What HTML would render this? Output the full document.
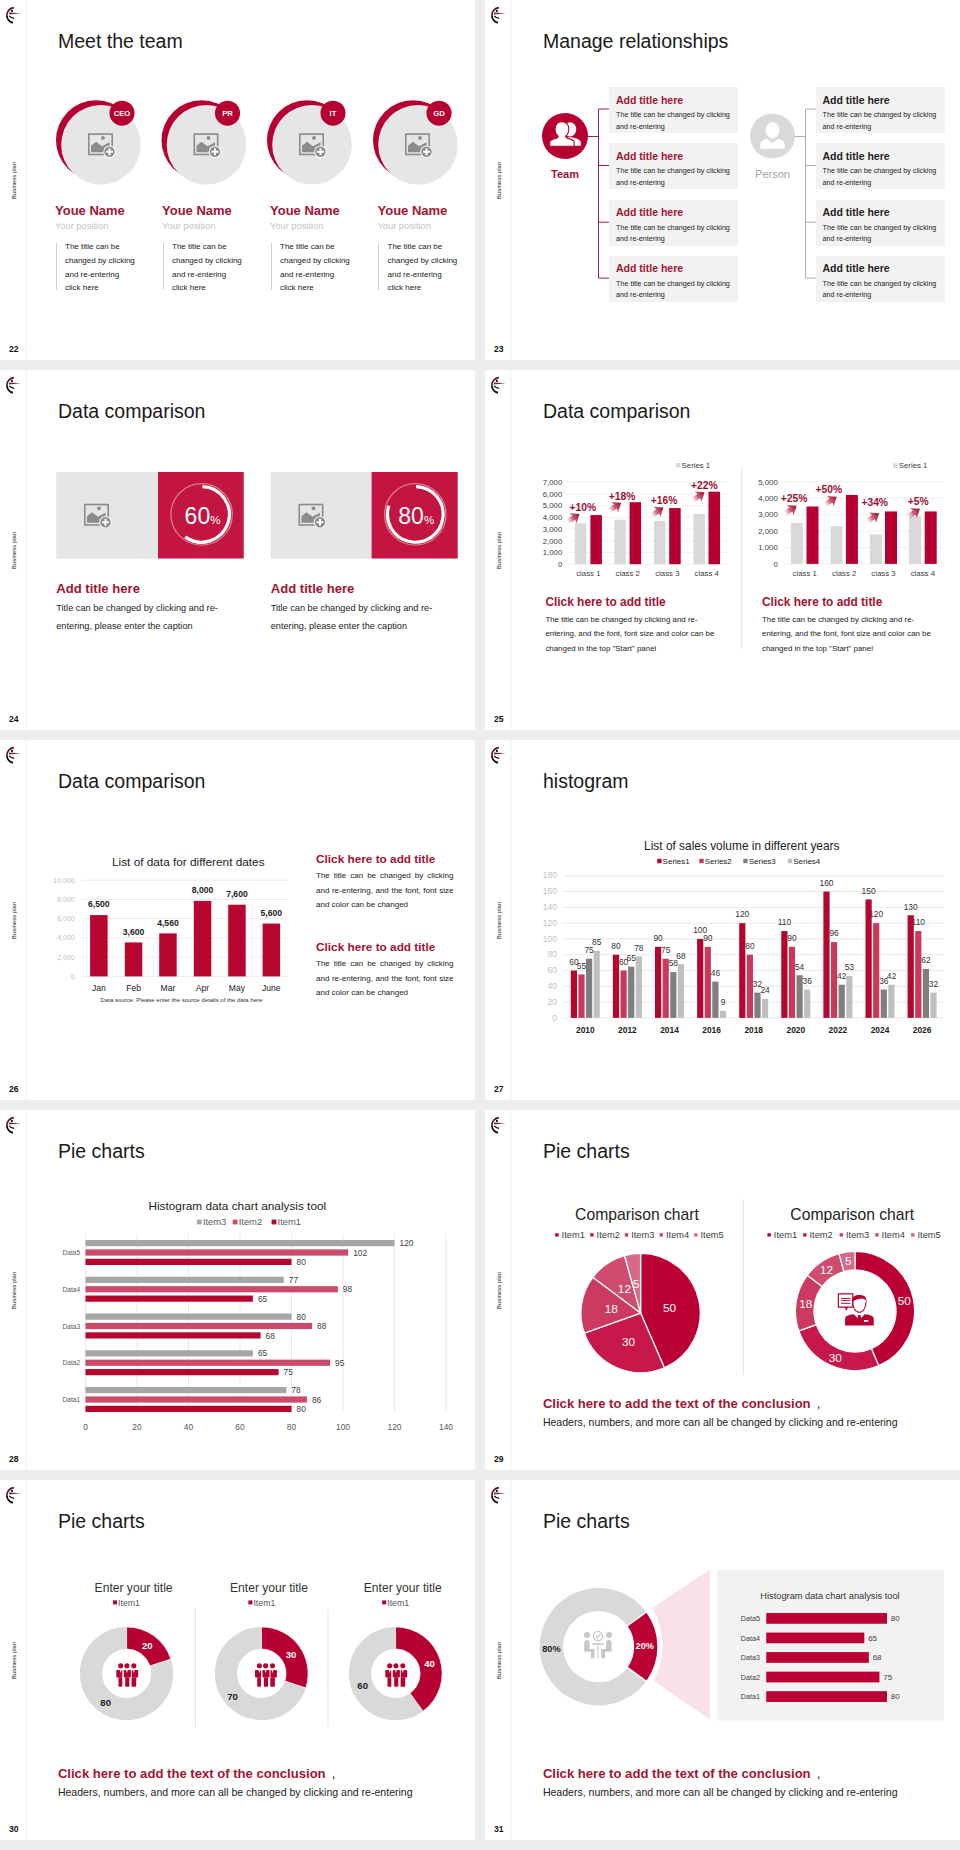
<!DOCTYPE html>
<html><head><meta charset="utf-8">
<style>
*{margin:0;padding:0;box-sizing:border-box}
html,body{width:960px;height:1850px;background:#ededed;overflow:hidden;font-family:"Liberation Sans",sans-serif;color:#222}
.s{position:absolute;width:475px;height:360px;background:#fff;overflow:hidden}
.ln{position:absolute;left:25px;top:0;width:2px;height:360px;background:#f7f7f7}
.bp{position:absolute;left:-6px;top:177px;width:40px;height:7px;font-size:6px;line-height:7px;transform:rotate(-90deg);text-align:center;color:#222;white-space:nowrap}
.pn{position:absolute;left:9px;top:343.7px;font-size:8.6px;font-weight:bold;line-height:10px;color:#111}
.tt{position:absolute;left:58px;top:28.6px;font-size:19.5px;line-height:24px;color:#1a1a1a;white-space:nowrap}
.a{position:absolute;white-space:nowrap}
svg{position:absolute;overflow:visible}
</style></head><body>
<svg width="0" height="0" style="position:absolute;left:0;top:0">
<defs>
<g id="logo">
<path d="M13.9 7.6 A7.6 7.6 0 0 0 6.9 15.1"  stroke="#561428" stroke-width="1.8" fill="none"/>
<path d="M6.9 15.3 A7.6 7.6 0 0 0 13 22.7" stroke="#111" stroke-width="1.9" fill="none"/>
<circle cx="11.9" cy="10.9" r="1.1" fill="#111"/>
<path d="M9 12.6 L20.6 13.3 L9.2 14.4 Z" fill="#7a2040"/>
<path d="M9.3 15.9 Q10.6 17.9 14.2 18.3" stroke="#111" stroke-width="1.3" fill="none"/>
</g>
<g id="imgic">
<rect x="0.8" y="0.8" width="23.4" height="20.4" fill="none" stroke="#8c8c8c" stroke-width="1.6"/>
<path d="M3 19 L3 12.5 L8 8.5 L14 13 L21.5 9 L21.5 19 Z" fill="#8c8c8c"/>
<circle cx="15" cy="4.6" r="1.9" fill="#8c8c8c"/>
<circle cx="21.5" cy="18.5" r="6.3" fill="#fff" opacity="0.9"/>
<circle cx="21.5" cy="18.5" r="5.2" fill="#8c8c8c"/>
<path d="M21.5 15 V22 M18 18.5 H25" stroke="#fff" stroke-width="2"/>
</g>
</defs></svg>

<div class="s" style="left:0px;top:0px"><div class="ln"></div><svg style="left:0;top:0" width="30" height="30"><use href="#logo"/></svg><div class="bp">Business plan</div><div class="pn">22</div><div class="tt">Meet the team</div>
<svg style="left:0;top:0" width="475" height="360"><circle cx="96" cy="140.2" r="40" fill="#b50031"/><circle cx="101" cy="144.7" r="39.8" fill="#e6e6e6"/><circle cx="122" cy="113.19999999999999" r="12.5" fill="#b50031"/><use href="#imgic" transform="translate(88,133.29999999999998)"/><text x="122" y="115.89999999999999" font-size="7.7" font-weight="bold" fill="#fff" text-anchor="middle">CEO</text><circle cx="201.5" cy="140.2" r="40" fill="#b50031"/><circle cx="206.5" cy="144.7" r="39.8" fill="#e6e6e6"/><circle cx="227.5" cy="113.19999999999999" r="12.5" fill="#b50031"/><use href="#imgic" transform="translate(193.5,133.29999999999998)"/><text x="227.5" y="115.89999999999999" font-size="7.7" font-weight="bold" fill="#fff" text-anchor="middle">PR</text><circle cx="307" cy="140.2" r="40" fill="#b50031"/><circle cx="312" cy="144.7" r="39.8" fill="#e6e6e6"/><circle cx="333" cy="113.19999999999999" r="12.5" fill="#b50031"/><use href="#imgic" transform="translate(299,133.29999999999998)"/><text x="333" y="115.89999999999999" font-size="7.7" font-weight="bold" fill="#fff" text-anchor="middle">IT</text><circle cx="413" cy="140.2" r="40" fill="#b50031"/><circle cx="418" cy="144.7" r="39.8" fill="#e6e6e6"/><circle cx="439" cy="113.19999999999999" r="12.5" fill="#b50031"/><use href="#imgic" transform="translate(405,133.29999999999998)"/><text x="439" y="115.89999999999999" font-size="7.7" font-weight="bold" fill="#fff" text-anchor="middle">GD</text></svg><div class="a" style="left:55px;top:204.1975px;font-size:13px;line-height:14.95px;color:#a01530;font-weight:bold;">Youe Name</div><div class="a" style="left:55px;top:220.8px;font-size:9.3px;line-height:10.70px;color:#c4c4c4;font-weight:normal;">Your position</div><div class="a" style="left:55.5px;top:243px;width:1px;height:47px;background:#d0d0d0"></div><div class="a" style="left:65px;top:240.3px;font-size:8px;line-height:13.7px;color:#222">The title can be<br>changed by clicking<br>and re-entering<br>click here</div><div class="a" style="left:162px;top:204.1975px;font-size:13px;line-height:14.95px;color:#a01530;font-weight:bold;">Youe Name</div><div class="a" style="left:162px;top:220.8px;font-size:9.3px;line-height:10.70px;color:#c4c4c4;font-weight:normal;">Your position</div><div class="a" style="left:162.5px;top:243px;width:1px;height:47px;background:#d0d0d0"></div><div class="a" style="left:172px;top:240.3px;font-size:8px;line-height:13.7px;color:#222">The title can be<br>changed by clicking<br>and re-entering<br>click here</div><div class="a" style="left:270px;top:204.1975px;font-size:13px;line-height:14.95px;color:#a01530;font-weight:bold;">Youe Name</div><div class="a" style="left:270px;top:220.8px;font-size:9.3px;line-height:10.70px;color:#c4c4c4;font-weight:normal;">Your position</div><div class="a" style="left:270.5px;top:243px;width:1px;height:47px;background:#d0d0d0"></div><div class="a" style="left:280px;top:240.3px;font-size:8px;line-height:13.7px;color:#222">The title can be<br>changed by clicking<br>and re-entering<br>click here</div><div class="a" style="left:377.5px;top:204.1975px;font-size:13px;line-height:14.95px;color:#a01530;font-weight:bold;">Youe Name</div><div class="a" style="left:377.5px;top:220.8px;font-size:9.3px;line-height:10.70px;color:#c4c4c4;font-weight:normal;">Your position</div><div class="a" style="left:378.0px;top:243px;width:1px;height:47px;background:#d0d0d0"></div><div class="a" style="left:387.5px;top:240.3px;font-size:8px;line-height:13.7px;color:#222">The title can be<br>changed by clicking<br>and re-entering<br>click here</div>
</div>
<div class="s" style="left:485px;top:0px"><div class="ln"></div><svg style="left:0;top:0" width="30" height="30"><use href="#logo"/></svg><div class="bp">Business plan</div><div class="pn">23</div><div class="tt">Manage relationships</div>
<svg style="left:0;top:0" width="475" height="360"><circle cx="80" cy="136" r="23" fill="#b50031"/><g fill="#fff"><ellipse cx="85" cy="129.4" rx="6.2" ry="7.2"/><path d="M78 145.8 V141 C78 138.6 81 137.8 83.5 137.2 H86.5 C90.5 138 95.8 139.2 95.8 142.6 V145.8 Z"/></g><g fill="#fff" stroke="#b50031" stroke-width="1.1"><path d="M64.6 146.3 V142.6 C64.6 139.9 67.8 138.9 71.8 138.1 C72.8 137.6 73.2 137 73.2 136.2 C71 134.6 70 132 70 129 C70 124.8 72.8 121.6 76.9 121.6 C81 121.6 83.8 124.8 83.8 129 C83.8 132 82.8 134.6 80.6 136.2 C80.6 137 81 137.6 82 138.1 C86 138.9 89.2 139.9 89.2 142.6 V146.3 Z"/></g><circle cx="287.5" cy="136" r="22.5" fill="#d9d9d9"/><g fill="#fff"><ellipse cx="287.5" cy="130.3" rx="7" ry="8.2"/><path d="M275.3 148.7 V144.5 C275.3 141.5 277.5 140 281.8 138.8 L287.5 143.5 L293.2 138.8 C297.5 140 299.7 141.5 299.7 144.5 V148.7 Z"/></g><g stroke="#a0203a" stroke-width="1" fill="none"><path d="M103 136.5 H113.5 M113.5 109 V278.1"/><path d="M113.5 109 H124"/><path d="M113.5 165.5 H124"/><path d="M113.5 222.2 H124"/><path d="M113.5 278.1 H124"/></g><g stroke="#b0b0b0" stroke-width="1" fill="none"><path d="M310 136.5 H320.5 M320.5 109 V278.1"/><path d="M320.5 109 H331"/><path d="M320.5 165.5 H331"/><path d="M320.5 222.2 H331"/><path d="M320.5 278.1 H331"/></g></svg><div class="a" style="left:124px;top:87px;width:128.5px;height:46px;background:#f2f2f2"></div><div class="a" style="left:331px;top:87px;width:129px;height:46px;background:#f2f2f2"></div><div class="a" style="left:131px;top:93.77875px;font-size:10.5px;line-height:12.07px;color:#a01530;font-weight:bold;">Add title here</div><div class="a" style="left:337.5px;top:93.77875px;font-size:10.5px;line-height:12.07px;color:#222;font-weight:bold;">Add title here</div><div class="a" style="left:131px;top:109.4px;font-size:7.2px;line-height:11.3px;color:#222">The title can be changed by clicking<br>and re-entering</div><div class="a" style="left:337.5px;top:109.4px;font-size:7.2px;line-height:11.3px;color:#222">The title can be changed by clicking<br>and re-entering</div><div class="a" style="left:124px;top:143px;width:128.5px;height:46px;background:#f2f2f2"></div><div class="a" style="left:331px;top:143px;width:129px;height:46px;background:#f2f2f2"></div><div class="a" style="left:131px;top:149.77875px;font-size:10.5px;line-height:12.07px;color:#a01530;font-weight:bold;">Add title here</div><div class="a" style="left:337.5px;top:149.77875px;font-size:10.5px;line-height:12.07px;color:#222;font-weight:bold;">Add title here</div><div class="a" style="left:131px;top:165.4px;font-size:7.2px;line-height:11.3px;color:#222">The title can be changed by clicking<br>and re-entering</div><div class="a" style="left:337.5px;top:165.4px;font-size:7.2px;line-height:11.3px;color:#222">The title can be changed by clicking<br>and re-entering</div><div class="a" style="left:124px;top:199.5px;width:128.5px;height:46px;background:#f2f2f2"></div><div class="a" style="left:331px;top:199.5px;width:129px;height:46px;background:#f2f2f2"></div><div class="a" style="left:131px;top:206.27875px;font-size:10.5px;line-height:12.07px;color:#a01530;font-weight:bold;">Add title here</div><div class="a" style="left:337.5px;top:206.27875px;font-size:10.5px;line-height:12.07px;color:#222;font-weight:bold;">Add title here</div><div class="a" style="left:131px;top:221.9px;font-size:7.2px;line-height:11.3px;color:#222">The title can be changed by clicking<br>and re-entering</div><div class="a" style="left:337.5px;top:221.9px;font-size:7.2px;line-height:11.3px;color:#222">The title can be changed by clicking<br>and re-entering</div><div class="a" style="left:124px;top:255.5px;width:128.5px;height:46px;background:#f2f2f2"></div><div class="a" style="left:331px;top:255.5px;width:129px;height:46px;background:#f2f2f2"></div><div class="a" style="left:131px;top:262.27875px;font-size:10.5px;line-height:12.07px;color:#a01530;font-weight:bold;">Add title here</div><div class="a" style="left:337.5px;top:262.27875px;font-size:10.5px;line-height:12.07px;color:#222;font-weight:bold;">Add title here</div><div class="a" style="left:131px;top:277.9px;font-size:7.2px;line-height:11.3px;color:#222">The title can be changed by clicking<br>and re-entering</div><div class="a" style="left:337.5px;top:277.9px;font-size:7.2px;line-height:11.3px;color:#222">The title can be changed by clicking<br>and re-entering</div><div class="a" style="left:-20px;top:167.68px;width:200px;text-align:center;font-size:11px;line-height:12.65px;color:#a01530;font-weight:bold;">Team</div><div class="a" style="left:187.5px;top:167.68px;width:200px;text-align:center;font-size:11px;line-height:12.65px;color:#a6a6a6;font-weight:normal;">Person</div>
</div>
<div class="s" style="left:0px;top:370px"><div class="ln"></div><svg style="left:0;top:0" width="30" height="30"><use href="#logo"/></svg><div class="bp">Business plan</div><div class="pn">24</div><div class="tt">Data comparison</div>
<svg style="left:0;top:0" width="475" height="360"><rect x="56.25" y="102" width="101.75" height="86.5" fill="#e6e4e4"/><rect x="158" y="102" width="85.75" height="86.5" fill="#c2153f"/><circle cx="201.6" cy="144.4" r="30.7" fill="none" stroke="#e07a90" stroke-width="1.3"/><path d="M202.4 116.60000000000001 A27.8 27.8 0 1 1 185.26 166.89" fill="none" stroke="#fff" stroke-width="3.2"/><use href="#imgic" transform="translate(84.0,133.75)"/><text x="184.6" y="153.8" font-size="23" fill="#fff">60<tspan font-size="11.5">%</tspan></text><rect x="270.7" y="102" width="100.90000000000003" height="86.5" fill="#e6e4e4"/><rect x="371.6" y="102" width="86.1" height="86.5" fill="#c2153f"/><circle cx="415.3" cy="144.4" r="30.7" fill="none" stroke="#e07a90" stroke-width="1.3"/><path d="M416.1 116.60000000000001 A27.8 27.8 0 1 1 388.86 135.81" fill="none" stroke="#fff" stroke-width="3.2"/><use href="#imgic" transform="translate(298.45,133.75)"/><text x="398.3" y="153.8" font-size="23" fill="#fff">80<tspan font-size="11.5">%</tspan></text></svg><div class="a" style="left:56.25px;top:211.47825px;font-size:13.1px;line-height:15.06px;color:#a01530;font-weight:bold;">Add title here</div><div class="a" style="left:56.25px;top:230.4px;font-size:9.2px;line-height:17.2px;color:#222">Title can be changed by clicking and re-<br>entering, please enter the caption</div><div class="a" style="left:270.7px;top:211.47825px;font-size:13.1px;line-height:15.06px;color:#a01530;font-weight:bold;">Add title here</div><div class="a" style="left:270.7px;top:230.4px;font-size:9.2px;line-height:17.2px;color:#222">Title can be changed by clicking and re-<br>entering, please enter the caption</div>
</div>
<div class="s" style="left:485px;top:370px"><div class="ln"></div><svg style="left:0;top:0" width="30" height="30"><use href="#logo"/></svg><div class="bp">Business plan</div><div class="pn">25</div><div class="tt">Data comparison</div>
<svg style="left:0;top:0" width="475" height="360"><defs><linearGradient id="ag" gradientUnits="objectBoundingBox" x1="0" y1="0" x2="1" y2="0"><stop offset="0" stop-color="#d0385a" stop-opacity="0"/><stop offset="0.45" stop-color="#c0284a" stop-opacity="0.75"/><stop offset="1" stop-color="#8e0c2c"/></linearGradient></defs><line x1="83.5" y1="194.20" x2="241.9" y2="194.20" stroke="#ececec" stroke-width="0.8"/><text x="77.3" y="196.90" font-size="7.8" fill="#404040" text-anchor="end">0</text><line x1="83.5" y1="182.50" x2="241.9" y2="182.50" stroke="#ececec" stroke-width="0.8"/><text x="77.3" y="185.20" font-size="7.8" fill="#404040" text-anchor="end">1,000</text><line x1="83.5" y1="170.80" x2="241.9" y2="170.80" stroke="#ececec" stroke-width="0.8"/><text x="77.3" y="173.50" font-size="7.8" fill="#404040" text-anchor="end">2,000</text><line x1="83.5" y1="159.10" x2="241.9" y2="159.10" stroke="#ececec" stroke-width="0.8"/><text x="77.3" y="161.80" font-size="7.8" fill="#404040" text-anchor="end">3,000</text><line x1="83.5" y1="147.40" x2="241.9" y2="147.40" stroke="#ececec" stroke-width="0.8"/><text x="77.3" y="150.10" font-size="7.8" fill="#404040" text-anchor="end">4,000</text><line x1="83.5" y1="135.70" x2="241.9" y2="135.70" stroke="#ececec" stroke-width="0.8"/><text x="77.3" y="138.40" font-size="7.8" fill="#404040" text-anchor="end">5,000</text><line x1="83.5" y1="124.00" x2="241.9" y2="124.00" stroke="#ececec" stroke-width="0.8"/><text x="77.3" y="126.70" font-size="7.8" fill="#404040" text-anchor="end">6,000</text><line x1="83.5" y1="112.30" x2="241.9" y2="112.30" stroke="#ececec" stroke-width="0.8"/><text x="77.3" y="115.00" font-size="7.8" fill="#404040" text-anchor="end">7,000</text><rect x="89.8" y="153.25" width="11.5" height="40.95" fill="#d9d9d9"/><rect x="105.4" y="145.06" width="11.5" height="49.14" fill="#b50031"/><text x="103.35" y="206.2" font-size="7.8" fill="#404040" text-anchor="middle">class 1</text><rect x="129.4" y="149.74" width="11.5" height="44.46" fill="#d9d9d9"/><rect x="144.6" y="132.19" width="11.5" height="62.01" fill="#b50031"/><text x="142.75" y="206.2" font-size="7.8" fill="#404040" text-anchor="middle">class 2</text><rect x="169" y="150.91" width="11.5" height="43.29" fill="#d9d9d9"/><rect x="184.2" y="138.04" width="11.5" height="56.16" fill="#b50031"/><text x="182.35" y="206.2" font-size="7.8" fill="#404040" text-anchor="middle">class 3</text><rect x="208.5" y="143.89" width="11.5" height="50.31" fill="#d9d9d9"/><rect x="223.5" y="121.66" width="11.5" height="72.54" fill="#b50031"/><text x="221.75" y="206.2" font-size="7.8" fill="#404040" text-anchor="middle">class 4</text><line x1="299.7" y1="193.90" x2="457.8" y2="193.90" stroke="#ececec" stroke-width="0.8"/><text x="292.8" y="196.60" font-size="7.8" fill="#404040" text-anchor="end">0</text><line x1="299.7" y1="177.50" x2="457.8" y2="177.50" stroke="#ececec" stroke-width="0.8"/><text x="292.8" y="180.20" font-size="7.8" fill="#404040" text-anchor="end">1,000</text><line x1="299.7" y1="161.10" x2="457.8" y2="161.10" stroke="#ececec" stroke-width="0.8"/><text x="292.8" y="163.80" font-size="7.8" fill="#404040" text-anchor="end">2,000</text><line x1="299.7" y1="144.70" x2="457.8" y2="144.70" stroke="#ececec" stroke-width="0.8"/><text x="292.8" y="147.40" font-size="7.8" fill="#404040" text-anchor="end">3,000</text><line x1="299.7" y1="128.30" x2="457.8" y2="128.30" stroke="#ececec" stroke-width="0.8"/><text x="292.8" y="131.00" font-size="7.8" fill="#404040" text-anchor="end">4,000</text><line x1="299.7" y1="111.90" x2="457.8" y2="111.90" stroke="#ececec" stroke-width="0.8"/><text x="292.8" y="114.60" font-size="7.8" fill="#404040" text-anchor="end">5,000</text><rect x="305.9" y="152.90" width="12" height="41.00" fill="#d9d9d9"/><rect x="321.5" y="136.50" width="12" height="57.40" fill="#b50031"/><text x="319.70" y="205.9" font-size="7.8" fill="#404040" text-anchor="middle">class 1</text><rect x="345.5" y="156.18" width="12" height="37.72" fill="#d9d9d9"/><rect x="360.9" y="125.02" width="12" height="68.88" fill="#b50031"/><text x="359.20" y="205.9" font-size="7.8" fill="#404040" text-anchor="middle">class 2</text><rect x="384.9" y="164.38" width="12" height="29.52" fill="#d9d9d9"/><rect x="400" y="141.42" width="12" height="52.48" fill="#b50031"/><text x="398.45" y="205.9" font-size="7.8" fill="#404040" text-anchor="middle">class 3</text><rect x="424" y="146.34" width="12" height="47.56" fill="#d9d9d9"/><rect x="439.7" y="141.42" width="12" height="52.48" fill="#b50031"/><text x="437.85" y="205.9" font-size="7.8" fill="#404040" text-anchor="middle">class 4</text><g transform="translate(94,144.3) rotate(-34)"><path d="M-13.5 -2.5 L-6.2 -2.5 L-7.2 -6.2 L0.6 0 L-7.2 6.2 L-6.2 2.5 L-13.5 2.5 Z" fill="url(#ag)"/></g><g transform="translate(135.6,133.1) rotate(-34)"><path d="M-13.5 -2.5 L-6.2 -2.5 L-7.2 -6.2 L0.6 0 L-7.2 6.2 L-6.2 2.5 L-13.5 2.5 Z" fill="url(#ag)"/></g><g transform="translate(177.9,137.9) rotate(-34)"><path d="M-13.5 -2.5 L-6.2 -2.5 L-7.2 -6.2 L0.6 0 L-7.2 6.2 L-6.2 2.5 L-13.5 2.5 Z" fill="url(#ag)"/></g><g transform="translate(219,122.7) rotate(-34)"><path d="M-13.5 -2.5 L-6.2 -2.5 L-7.2 -6.2 L0.6 0 L-7.2 6.2 L-6.2 2.5 L-13.5 2.5 Z" fill="url(#ag)"/></g><g transform="translate(311.1,136.1) rotate(-34)"><path d="M-13.5 -2.5 L-6.2 -2.5 L-7.2 -6.2 L0.6 0 L-7.2 6.2 L-6.2 2.5 L-13.5 2.5 Z" fill="url(#ag)"/></g><g transform="translate(351.2,127) rotate(-34)"><path d="M-13.5 -2.5 L-6.2 -2.5 L-7.2 -6.2 L0.6 0 L-7.2 6.2 L-6.2 2.5 L-13.5 2.5 Z" fill="url(#ag)"/></g><g transform="translate(393.6,143.7) rotate(-34)"><path d="M-13.5 -2.5 L-6.2 -2.5 L-7.2 -6.2 L0.6 0 L-7.2 6.2 L-6.2 2.5 L-13.5 2.5 Z" fill="url(#ag)"/></g><g transform="translate(434.4,139.1) rotate(-34)"><path d="M-13.5 -2.5 L-6.2 -2.5 L-7.2 -6.2 L0.6 0 L-7.2 6.2 L-6.2 2.5 L-13.5 2.5 Z" fill="url(#ag)"/></g><text x="84.6" y="140.9" font-size="10.3" font-weight="bold" fill="#9a1030">+10%</text><text x="123.75" y="129.85" font-size="10.3" font-weight="bold" fill="#9a1030">+18%</text><text x="165.8" y="133.6" font-size="10.3" font-weight="bold" fill="#9a1030">+16%</text><text x="206" y="119.0" font-size="10.3" font-weight="bold" fill="#9a1030">+22%</text><text x="295.8" y="131.6" font-size="10.3" font-weight="bold" fill="#9a1030">+25%</text><text x="330.6" y="123.0" font-size="10.3" font-weight="bold" fill="#9a1030">+50%</text><text x="376.4" y="136.29999999999998" font-size="10.3" font-weight="bold" fill="#9a1030">+34%</text><text x="422.7" y="134.5" font-size="10.3" font-weight="bold" fill="#9a1030">+5%</text><rect x="190.8" y="93.0" width="4.4" height="4.4" fill="#d9d9d9"/><text x="196.60000000000002" y="98.0" font-size="7.8" fill="#404040">Series 1</text><rect x="408" y="93.39999999999999" width="4.4" height="4.4" fill="#d9d9d9"/><text x="413.8" y="98.39999999999999" font-size="7.8" fill="#404040">Series 1</text><line x1="256.8" y1="96.5" x2="256.8" y2="279.6" stroke="#e3e3e3" stroke-width="1"/></svg><div class="a" style="left:60.4px;top:225.9575px;font-size:11.9px;line-height:13.68px;color:#a01530;font-weight:bold;">Click here to add title</div><div class="a" style="left:60.4px;top:242.65px;font-size:7.9px;line-height:14.5px;color:#222">The title can be changed by clicking and re-<br>entering, and the font, font size and color can be<br>changed in the top "Start" panel</div><div class="a" style="left:277px;top:225.9575px;font-size:11.9px;line-height:13.68px;color:#a01530;font-weight:bold;">Click here to add title</div><div class="a" style="left:277px;top:242.65px;font-size:7.9px;line-height:14.5px;color:#222">The title can be changed by clicking and re-<br>entering, and the font, font size and color can be<br>changed in the top "Start" panel</div>
</div>
<div class="s" style="left:0px;top:740px"><div class="ln"></div><svg style="left:0;top:0" width="30" height="30"><use href="#logo"/></svg><div class="bp">Business plan</div><div class="pn">26</div><div class="tt">Data comparison</div>
<svg style="left:0;top:0" width="475" height="360"><line x1="82" y1="236.40" x2="287.8" y2="236.40" stroke="#e6e6e6" stroke-width="0.8"/><text x="74.7" y="238.90" font-size="7" fill="#bfbfbf" text-anchor="end">0</text><line x1="82" y1="217.15" x2="287.8" y2="217.15" stroke="#e6e6e6" stroke-width="0.8"/><text x="74.7" y="219.65" font-size="7" fill="#bfbfbf" text-anchor="end">2,000</text><line x1="82" y1="197.90" x2="287.8" y2="197.90" stroke="#e6e6e6" stroke-width="0.8"/><text x="74.7" y="200.40" font-size="7" fill="#bfbfbf" text-anchor="end">4,000</text><line x1="82" y1="178.65" x2="287.8" y2="178.65" stroke="#e6e6e6" stroke-width="0.8"/><text x="74.7" y="181.15" font-size="7" fill="#bfbfbf" text-anchor="end">6,000</text><line x1="82" y1="159.40" x2="287.8" y2="159.40" stroke="#e6e6e6" stroke-width="0.8"/><text x="74.7" y="161.90" font-size="7" fill="#bfbfbf" text-anchor="end">8,000</text><line x1="82" y1="140.15" x2="287.8" y2="140.15" stroke="#e6e6e6" stroke-width="0.8"/><text x="74.7" y="142.65" font-size="7" fill="#bfbfbf" text-anchor="end">10,000</text><rect x="90.1" y="175.09" width="17.5" height="61.31" fill="#b8072f"/><text x="98.85" y="167.49" font-size="8.6" font-weight="bold" fill="#222" text-anchor="middle">6,500</text><text x="98.85" y="250.70" font-size="8.6" fill="#222" text-anchor="middle">Jan</text><rect x="124.8" y="202.44" width="17.5" height="33.96" fill="#b8072f"/><text x="133.55" y="194.84" font-size="8.6" font-weight="bold" fill="#222" text-anchor="middle">3,600</text><text x="133.55" y="250.70" font-size="8.6" fill="#222" text-anchor="middle">Feb</text><rect x="159.2" y="193.39" width="17.5" height="43.01" fill="#b8072f"/><text x="167.95" y="185.79" font-size="8.6" font-weight="bold" fill="#222" text-anchor="middle">4,560</text><text x="167.95" y="250.70" font-size="8.6" fill="#222" text-anchor="middle">Mar</text><rect x="193.8" y="160.94" width="17.5" height="75.46" fill="#b8072f"/><text x="202.55" y="153.34" font-size="8.6" font-weight="bold" fill="#222" text-anchor="middle">8,000</text><text x="202.55" y="250.70" font-size="8.6" fill="#222" text-anchor="middle">Apr</text><rect x="228.2" y="164.71" width="17.5" height="71.69" fill="#b8072f"/><text x="236.95" y="157.11" font-size="8.6" font-weight="bold" fill="#222" text-anchor="middle">7,600</text><text x="236.95" y="250.70" font-size="8.6" fill="#222" text-anchor="middle">May</text><rect x="262.6" y="183.58" width="17.5" height="52.82" fill="#b8072f"/><text x="271.35" y="175.98" font-size="8.6" font-weight="bold" fill="#222" text-anchor="middle">5,600</text><text x="271.35" y="250.70" font-size="8.6" fill="#222" text-anchor="middle">June</text><text x="181.5" y="261.8" font-size="6" fill="#333" text-anchor="middle">Data source: Please enter the source details of the data here</text><text x="188.3" y="125.9" font-size="11.8" fill="#222" text-anchor="middle">List of data for different dates</text></svg><div class="a" style="left:316px;top:112.565px;font-size:11.8px;line-height:13.57px;color:#a01530;font-weight:bold;">Click here to add title</div><div class="a" style="left:316px;top:129.30px;width:137.5px;white-space:normal;text-align:justify;text-align-last:left;font-size:8px;line-height:14.4px;color:#222">The title can be changed by clicking and re-entering, and the font, font size and color can be changed</div><div class="a" style="left:316px;top:200.615px;font-size:11.8px;line-height:13.57px;color:#a01530;font-weight:bold;">Click here to add title</div><div class="a" style="left:316px;top:217.35px;width:137.5px;white-space:normal;text-align:justify;text-align-last:left;font-size:8px;line-height:14.4px;color:#222">The title can be changed by clicking and re-entering, and the font, font size and color can be changed</div>
</div>
<div class="s" style="left:485px;top:740px"><div class="ln"></div><svg style="left:0;top:0" width="30" height="30"><use href="#logo"/></svg><div class="bp">Business plan</div><div class="pn">27</div><div class="tt">histogram</div>
<svg style="left:0;top:0" width="475" height="360"><line x1="77" y1="277.90" x2="459" y2="277.90" stroke="#e3e3e3" stroke-width="0.8"/><text x="72" y="280.60" font-size="8.5" fill="#bfbfbf" text-anchor="end">0</text><line x1="77" y1="262.11" x2="459" y2="262.11" stroke="#e3e3e3" stroke-width="0.8"/><text x="72" y="264.81" font-size="8.5" fill="#bfbfbf" text-anchor="end">20</text><line x1="77" y1="246.32" x2="459" y2="246.32" stroke="#e3e3e3" stroke-width="0.8"/><text x="72" y="249.02" font-size="8.5" fill="#bfbfbf" text-anchor="end">40</text><line x1="77" y1="230.53" x2="459" y2="230.53" stroke="#e3e3e3" stroke-width="0.8"/><text x="72" y="233.23" font-size="8.5" fill="#bfbfbf" text-anchor="end">60</text><line x1="77" y1="214.74" x2="459" y2="214.74" stroke="#e3e3e3" stroke-width="0.8"/><text x="72" y="217.44" font-size="8.5" fill="#bfbfbf" text-anchor="end">80</text><line x1="77" y1="198.95" x2="459" y2="198.95" stroke="#e3e3e3" stroke-width="0.8"/><text x="72" y="201.65" font-size="8.5" fill="#bfbfbf" text-anchor="end">100</text><line x1="77" y1="183.16" x2="459" y2="183.16" stroke="#e3e3e3" stroke-width="0.8"/><text x="72" y="185.86" font-size="8.5" fill="#bfbfbf" text-anchor="end">120</text><line x1="77" y1="167.37" x2="459" y2="167.37" stroke="#e3e3e3" stroke-width="0.8"/><text x="72" y="170.07" font-size="8.5" fill="#bfbfbf" text-anchor="end">140</text><line x1="77" y1="151.58" x2="459" y2="151.58" stroke="#e3e3e3" stroke-width="0.8"/><text x="72" y="154.28" font-size="8.5" fill="#bfbfbf" text-anchor="end">160</text><line x1="77" y1="135.79" x2="459" y2="135.79" stroke="#e3e3e3" stroke-width="0.8"/><text x="72" y="138.49" font-size="8.5" fill="#bfbfbf" text-anchor="end">180</text><rect x="85.80" y="230.53" width="6.2" height="47.37" fill="#b5072e"/><rect x="93.40" y="234.48" width="6.2" height="43.42" fill="#c83a5a"/><rect x="101.00" y="218.69" width="6.2" height="59.21" fill="#7f7f7f"/><rect x="108.60" y="210.79" width="6.2" height="67.11" fill="#bfbfbf"/><text x="88.90" y="224.83" font-size="8.4" fill="#333" text-anchor="middle">60</text><text x="96.50" y="228.78" font-size="8.4" fill="#333" text-anchor="middle">55</text><text x="104.10" y="212.99" font-size="8.4" fill="#333" text-anchor="middle">75</text><text x="111.70" y="205.09" font-size="8.4" fill="#333" text-anchor="middle">85</text><text x="100.30" y="292.80" font-size="8.4" font-weight="bold" fill="#222" text-anchor="middle">2010</text><rect x="127.90" y="214.74" width="6.2" height="63.16" fill="#b5072e"/><rect x="135.50" y="230.53" width="6.2" height="47.37" fill="#c83a5a"/><rect x="143.10" y="226.58" width="6.2" height="51.32" fill="#7f7f7f"/><rect x="150.70" y="216.32" width="6.2" height="61.58" fill="#bfbfbf"/><text x="131.00" y="209.04" font-size="8.4" fill="#333" text-anchor="middle">80</text><text x="138.60" y="224.83" font-size="8.4" fill="#333" text-anchor="middle">60</text><text x="146.20" y="220.88" font-size="8.4" fill="#333" text-anchor="middle">65</text><text x="153.80" y="210.62" font-size="8.4" fill="#333" text-anchor="middle">78</text><text x="142.40" y="292.80" font-size="8.4" font-weight="bold" fill="#222" text-anchor="middle">2012</text><rect x="170.00" y="206.84" width="6.2" height="71.05" fill="#b5072e"/><rect x="177.60" y="218.69" width="6.2" height="59.21" fill="#c83a5a"/><rect x="185.20" y="232.11" width="6.2" height="45.79" fill="#7f7f7f"/><rect x="192.80" y="224.21" width="6.2" height="53.69" fill="#bfbfbf"/><text x="173.10" y="201.14" font-size="8.4" fill="#333" text-anchor="middle">90</text><text x="180.70" y="212.99" font-size="8.4" fill="#333" text-anchor="middle">75</text><text x="188.30" y="226.41" font-size="8.4" fill="#333" text-anchor="middle">58</text><text x="195.90" y="218.51" font-size="8.4" fill="#333" text-anchor="middle">68</text><text x="184.50" y="292.80" font-size="8.4" font-weight="bold" fill="#222" text-anchor="middle">2014</text><rect x="212.10" y="198.95" width="6.2" height="78.95" fill="#b5072e"/><rect x="219.70" y="206.84" width="6.2" height="71.05" fill="#c83a5a"/><rect x="227.30" y="241.58" width="6.2" height="36.32" fill="#7f7f7f"/><rect x="234.90" y="270.79" width="6.2" height="7.11" fill="#bfbfbf"/><text x="215.20" y="193.25" font-size="8.4" fill="#333" text-anchor="middle">100</text><text x="222.80" y="201.14" font-size="8.4" fill="#333" text-anchor="middle">90</text><text x="230.40" y="235.88" font-size="8.4" fill="#333" text-anchor="middle">46</text><text x="238.00" y="265.09" font-size="8.4" fill="#333" text-anchor="middle">9</text><text x="226.60" y="292.80" font-size="8.4" font-weight="bold" fill="#222" text-anchor="middle">2016</text><rect x="254.20" y="183.16" width="6.2" height="94.74" fill="#b5072e"/><rect x="261.80" y="214.74" width="6.2" height="63.16" fill="#c83a5a"/><rect x="269.40" y="252.64" width="6.2" height="25.26" fill="#7f7f7f"/><rect x="277.00" y="258.95" width="6.2" height="18.95" fill="#bfbfbf"/><text x="257.30" y="177.46" font-size="8.4" fill="#333" text-anchor="middle">120</text><text x="264.90" y="209.04" font-size="8.4" fill="#333" text-anchor="middle">80</text><text x="272.50" y="246.94" font-size="8.4" fill="#333" text-anchor="middle">32</text><text x="280.10" y="253.25" font-size="8.4" fill="#333" text-anchor="middle">24</text><text x="268.70" y="292.80" font-size="8.4" font-weight="bold" fill="#222" text-anchor="middle">2018</text><rect x="296.30" y="191.05" width="6.2" height="86.84" fill="#b5072e"/><rect x="303.90" y="206.84" width="6.2" height="71.05" fill="#c83a5a"/><rect x="311.50" y="235.27" width="6.2" height="42.63" fill="#7f7f7f"/><rect x="319.10" y="249.48" width="6.2" height="28.42" fill="#bfbfbf"/><text x="299.40" y="185.35" font-size="8.4" fill="#333" text-anchor="middle">110</text><text x="307.00" y="201.14" font-size="8.4" fill="#333" text-anchor="middle">90</text><text x="314.60" y="229.57" font-size="8.4" fill="#333" text-anchor="middle">54</text><text x="322.20" y="243.78" font-size="8.4" fill="#333" text-anchor="middle">36</text><text x="310.80" y="292.80" font-size="8.4" font-weight="bold" fill="#222" text-anchor="middle">2020</text><rect x="338.40" y="151.58" width="6.2" height="126.32" fill="#b5072e"/><rect x="346.00" y="202.11" width="6.2" height="75.79" fill="#c83a5a"/><rect x="353.60" y="244.74" width="6.2" height="33.16" fill="#7f7f7f"/><rect x="361.20" y="236.06" width="6.2" height="41.84" fill="#bfbfbf"/><text x="341.50" y="145.88" font-size="8.4" fill="#333" text-anchor="middle">160</text><text x="349.10" y="196.41" font-size="8.4" fill="#333" text-anchor="middle">96</text><text x="356.70" y="239.04" font-size="8.4" fill="#333" text-anchor="middle">42</text><text x="364.30" y="230.36" font-size="8.4" fill="#333" text-anchor="middle">53</text><text x="352.90" y="292.80" font-size="8.4" font-weight="bold" fill="#222" text-anchor="middle">2022</text><rect x="380.50" y="159.47" width="6.2" height="118.42" fill="#b5072e"/><rect x="388.10" y="183.16" width="6.2" height="94.74" fill="#c83a5a"/><rect x="395.70" y="249.48" width="6.2" height="28.42" fill="#7f7f7f"/><rect x="403.30" y="244.74" width="6.2" height="33.16" fill="#bfbfbf"/><text x="383.60" y="153.77" font-size="8.4" fill="#333" text-anchor="middle">150</text><text x="391.20" y="177.46" font-size="8.4" fill="#333" text-anchor="middle">120</text><text x="398.80" y="243.78" font-size="8.4" fill="#333" text-anchor="middle">36</text><text x="406.40" y="239.04" font-size="8.4" fill="#333" text-anchor="middle">42</text><text x="395.00" y="292.80" font-size="8.4" font-weight="bold" fill="#222" text-anchor="middle">2024</text><rect x="422.60" y="175.26" width="6.2" height="102.63" fill="#b5072e"/><rect x="430.20" y="191.05" width="6.2" height="86.84" fill="#c83a5a"/><rect x="437.80" y="228.95" width="6.2" height="48.95" fill="#7f7f7f"/><rect x="445.40" y="252.64" width="6.2" height="25.26" fill="#bfbfbf"/><text x="425.70" y="169.56" font-size="8.4" fill="#333" text-anchor="middle">130</text><text x="433.30" y="185.35" font-size="8.4" fill="#333" text-anchor="middle">110</text><text x="440.90" y="223.25" font-size="8.4" fill="#333" text-anchor="middle">62</text><text x="448.50" y="246.94" font-size="8.4" fill="#333" text-anchor="middle">32</text><text x="437.10" y="292.80" font-size="8.4" font-weight="bold" fill="#222" text-anchor="middle">2026</text><text x="256.8" y="109.8" font-size="11.9" fill="#222" text-anchor="middle">List of sales volume in different years</text><rect x="172.2" y="118.8" width="4.4" height="4.4" fill="#b5072e"/><text x="177.6" y="123.8" font-size="8" fill="#222">Series1</text><rect x="214.3" y="118.8" width="4.4" height="4.4" fill="#c83a5a"/><text x="219.70000000000002" y="123.8" font-size="8" fill="#222">Series2</text><rect x="258.3" y="118.8" width="4.4" height="4.4" fill="#7f7f7f"/><text x="263.7" y="123.8" font-size="8" fill="#222">Series3</text><rect x="302.8" y="118.8" width="4.4" height="4.4" fill="#bfbfbf"/><text x="308.2" y="123.8" font-size="8" fill="#222">Series4</text></svg>
</div>
<div class="s" style="left:0px;top:1110px"><div class="ln"></div><svg style="left:0;top:0" width="30" height="30"><use href="#logo"/></svg><div class="bp">Business plan</div><div class="pn">28</div><div class="tt">Pie charts</div>
<svg style="left:0;top:0" width="475" height="360"><line x1="85.50" y1="123.75" x2="85.50" y2="303" stroke="#e3e3e3" stroke-width="0.8"/><text x="85.50" y="319.8" font-size="8.4" fill="#595959" text-anchor="middle">0</text><line x1="137.00" y1="123.75" x2="137.00" y2="303" stroke="#e3e3e3" stroke-width="0.8"/><text x="137.00" y="319.8" font-size="8.4" fill="#595959" text-anchor="middle">20</text><line x1="188.50" y1="123.75" x2="188.50" y2="303" stroke="#e3e3e3" stroke-width="0.8"/><text x="188.50" y="319.8" font-size="8.4" fill="#595959" text-anchor="middle">40</text><line x1="240.00" y1="123.75" x2="240.00" y2="303" stroke="#e3e3e3" stroke-width="0.8"/><text x="240.00" y="319.8" font-size="8.4" fill="#595959" text-anchor="middle">60</text><line x1="291.50" y1="123.75" x2="291.50" y2="303" stroke="#e3e3e3" stroke-width="0.8"/><text x="291.50" y="319.8" font-size="8.4" fill="#595959" text-anchor="middle">80</text><line x1="343.00" y1="123.75" x2="343.00" y2="303" stroke="#e3e3e3" stroke-width="0.8"/><text x="343.00" y="319.8" font-size="8.4" fill="#595959" text-anchor="middle">100</text><line x1="394.50" y1="123.75" x2="394.50" y2="303" stroke="#e3e3e3" stroke-width="0.8"/><text x="394.50" y="319.8" font-size="8.4" fill="#595959" text-anchor="middle">120</text><line x1="446.00" y1="123.75" x2="446.00" y2="303" stroke="#e3e3e3" stroke-width="0.8"/><text x="446.00" y="319.8" font-size="8.4" fill="#595959" text-anchor="middle">140</text><rect x="85.5" y="130.00" width="309.00" height="6.2" fill="#a6a6a6"/><text x="399.50" y="136.20" font-size="8.4" fill="#404040">120</text><rect x="85.5" y="139.40" width="262.65" height="6.2" fill="#cc4a6a"/><text x="353.15" y="145.60" font-size="8.4" fill="#404040">102</text><rect x="85.5" y="148.80" width="206.00" height="6.2" fill="#b5072e"/><text x="296.50" y="155.00" font-size="8.4" fill="#404040">80</text><text x="80.2" y="145.00" font-size="6.6" fill="#595959" text-anchor="end">Data5</text><rect x="85.5" y="166.75" width="198.28" height="6.2" fill="#a6a6a6"/><text x="288.77" y="172.95" font-size="8.4" fill="#404040">77</text><rect x="85.5" y="176.15" width="252.35" height="6.2" fill="#cc4a6a"/><text x="342.85" y="182.35" font-size="8.4" fill="#404040">98</text><rect x="85.5" y="185.55" width="167.38" height="6.2" fill="#b5072e"/><text x="257.88" y="191.75" font-size="8.4" fill="#404040">65</text><text x="80.2" y="181.75" font-size="6.6" fill="#595959" text-anchor="end">Data4</text><rect x="85.5" y="203.50" width="206.00" height="6.2" fill="#a6a6a6"/><text x="296.50" y="209.70" font-size="8.4" fill="#404040">80</text><rect x="85.5" y="212.90" width="226.60" height="6.2" fill="#cc4a6a"/><text x="317.10" y="219.10" font-size="8.4" fill="#404040">88</text><rect x="85.5" y="222.30" width="175.10" height="6.2" fill="#b5072e"/><text x="265.60" y="228.50" font-size="8.4" fill="#404040">68</text><text x="80.2" y="218.50" font-size="6.6" fill="#595959" text-anchor="end">Data3</text><rect x="85.5" y="240.25" width="167.38" height="6.2" fill="#a6a6a6"/><text x="257.88" y="246.45" font-size="8.4" fill="#404040">65</text><rect x="85.5" y="249.65" width="244.63" height="6.2" fill="#cc4a6a"/><text x="335.12" y="255.85" font-size="8.4" fill="#404040">95</text><rect x="85.5" y="259.05" width="193.12" height="6.2" fill="#b5072e"/><text x="283.62" y="265.25" font-size="8.4" fill="#404040">75</text><text x="80.2" y="255.25" font-size="6.6" fill="#595959" text-anchor="end">Data2</text><rect x="85.5" y="277.00" width="200.85" height="6.2" fill="#a6a6a6"/><text x="291.35" y="283.20" font-size="8.4" fill="#404040">78</text><rect x="85.5" y="286.40" width="221.45" height="6.2" fill="#cc4a6a"/><text x="311.95" y="292.60" font-size="8.4" fill="#404040">86</text><rect x="85.5" y="295.80" width="206.00" height="6.2" fill="#b5072e"/><text x="296.50" y="302.00" font-size="8.4" fill="#404040">80</text><text x="80.2" y="292.00" font-size="6.6" fill="#595959" text-anchor="end">Data1</text><text x="237.3" y="100.2" font-size="11.8" fill="#222" text-anchor="middle">Histogram data chart analysis tool</text><rect x="196.9" y="109.6" width="4.8" height="4.8" fill="#a6a6a6"/><text x="202.9" y="115.4" font-size="9.4" fill="#595959">Item3</text><rect x="232.7" y="109.6" width="4.8" height="4.8" fill="#cc4a6a"/><text x="238.7" y="115.4" font-size="9.4" fill="#595959">Item2</text><rect x="271.6" y="109.6" width="4.8" height="4.8" fill="#b5072e"/><text x="277.6" y="115.4" font-size="9.4" fill="#595959">Item1</text></svg>
</div>
<div class="s" style="left:485px;top:1110px"><div class="ln"></div><svg style="left:0;top:0" width="30" height="30"><use href="#logo"/></svg><div class="bp">Business plan</div><div class="pn">29</div><div class="tt">Pie charts</div>
<svg style="left:0;top:0" width="475" height="360"><path d="M155.60 203.10 L155.60 143.40 A59.7 59.7 0 0 1 179.38 257.86 Z" fill="#bb0033" stroke="#fff" stroke-width="1.3" stroke-linejoin="round"/><path d="M155.60 203.10 L179.38 257.86 A59.7 59.7 0 0 1 99.35 223.09 Z" fill="#c8174a" stroke="#fff" stroke-width="1.3" stroke-linejoin="round"/><path d="M155.60 203.10 L99.35 223.09 A59.7 59.7 0 0 1 107.79 167.35 Z" fill="#cc3a60" stroke="#fff" stroke-width="1.3" stroke-linejoin="round"/><path d="M155.60 203.10 L107.79 167.35 A59.7 59.7 0 0 1 139.49 145.61 Z" fill="#cf4c6e" stroke="#fff" stroke-width="1.3" stroke-linejoin="round"/><path d="M155.60 203.10 L139.49 145.61 A59.7 59.7 0 0 1 155.60 143.40 Z" fill="#d76a88" stroke="#fff" stroke-width="1.3" stroke-linejoin="round"/><text x="184.6" y="202.1" font-size="11.8" fill="#fff" text-anchor="middle">50</text><text x="143.6" y="235.79999999999998" font-size="11.8" fill="#fff" text-anchor="middle">30</text><text x="126.2" y="203.2" font-size="11.8" fill="#fff" text-anchor="middle">18</text><text x="139.4" y="183.2" font-size="11.8" fill="#fff" text-anchor="middle">12</text><text x="151.4" y="178.0" font-size="11.8" fill="#fff" text-anchor="middle">5</text><path d="M370.00 141.40 A59.6 59.6 0 0 1 393.74 255.67 L386.33 238.61 A41 41 0 0 0 370.00 160.00 Z" fill="#bb0033" stroke="#fff" stroke-width="1.3" stroke-linejoin="round"/><path d="M393.74 255.67 A59.6 59.6 0 0 1 313.84 220.96 L331.37 214.73 A41 41 0 0 0 386.33 238.61 Z" fill="#c8174a" stroke="#fff" stroke-width="1.3" stroke-linejoin="round"/><path d="M313.84 220.96 A59.6 59.6 0 0 1 322.27 165.31 L337.16 176.45 A41 41 0 0 0 331.37 214.73 Z" fill="#cc3a60" stroke="#fff" stroke-width="1.3" stroke-linejoin="round"/><path d="M322.27 165.31 A59.6 59.6 0 0 1 353.92 143.61 L358.94 161.52 A41 41 0 0 0 337.16 176.45 Z" fill="#cf4c6e" stroke="#fff" stroke-width="1.3" stroke-linejoin="round"/><path d="M353.92 143.61 A59.6 59.6 0 0 1 370.00 141.40 L370.00 160.00 A41 41 0 0 0 358.94 161.52 Z" fill="#d76a88" stroke="#fff" stroke-width="1.3" stroke-linejoin="round"/><text x="419.2" y="195.2" font-size="11.8" fill="#fff" text-anchor="middle">50</text><text x="350.3" y="252.2" font-size="11.8" fill="#fff" text-anchor="middle">30</text><text x="320.8" y="197.5" font-size="11.8" fill="#fff" text-anchor="middle">18</text><text x="341.6" y="164.0" font-size="11.8" fill="#fff" text-anchor="middle">12</text><text x="363.4" y="154.79999999999998" font-size="11.8" fill="#fff" text-anchor="middle">5</text><text x="152" y="109.8" font-size="15.7" fill="#222" text-anchor="middle">Comparison chart</text><rect x="70.2" y="123.2" width="3.4" height="3.4" fill="#bb0033"/><text x="76.60000000000001" y="128.4" font-size="9.3" fill="#404040">Item1</text><rect x="105.2" y="123.2" width="3.4" height="3.4" fill="#c8174a"/><text x="111.60000000000001" y="128.4" font-size="9.3" fill="#404040">Item2</text><rect x="139.8" y="123.2" width="3.4" height="3.4" fill="#cc3a60"/><text x="146.2" y="128.4" font-size="9.3" fill="#404040">Item3</text><rect x="174.60000000000002" y="123.2" width="3.4" height="3.4" fill="#cf4c6e"/><text x="181.0" y="128.4" font-size="9.3" fill="#404040">Item4</text><rect x="209.10000000000002" y="123.2" width="3.4" height="3.4" fill="#d76a88"/><text x="215.5" y="128.4" font-size="9.3" fill="#404040">Item5</text><text x="367.25" y="109.8" font-size="15.7" fill="#222" text-anchor="middle">Comparison chart</text><rect x="282.40000000000003" y="123.2" width="3.4" height="3.4" fill="#bb0033"/><text x="288.8" y="128.4" font-size="9.3" fill="#404040">Item1</text><rect x="318.1" y="123.2" width="3.4" height="3.4" fill="#c8174a"/><text x="324.5" y="128.4" font-size="9.3" fill="#404040">Item2</text><rect x="354.6" y="123.2" width="3.4" height="3.4" fill="#cc3a60"/><text x="361.0" y="128.4" font-size="9.3" fill="#404040">Item3</text><rect x="390.2" y="123.2" width="3.4" height="3.4" fill="#cf4c6e"/><text x="396.59999999999997" y="128.4" font-size="9.3" fill="#404040">Item4</text><rect x="426.1" y="123.2" width="3.4" height="3.4" fill="#d76a88"/><text x="432.5" y="128.4" font-size="9.3" fill="#404040">Item5</text><line x1="258.5" y1="89" x2="258.5" y2="264.7" stroke="#e3e3e3" stroke-width="1"/><g fill="#b50031"><path d="M352.8 183.3 H368.4 V197.7 H363 L361 201 L360.2 197.7 H352.8 Z M354 184.6 V196.4 H367.2 V184.6 Z" fill-rule="evenodd"/><rect x="356" y="188.1" width="9.5" height="0.9"/><rect x="356" y="190.2" width="9.5" height="0.9"/><rect x="356" y="192.9" width="9.5" height="0.9"/><path d="M367.1 193 C366.5 187 369 184.9 374.3 184.9 C379.6 184.9 382 187 381.5 193 C381 190 380 189 377 188.5 C373 189.5 369.5 189 367.1 193 Z"/><path d="M367.6 192 C367.6 197.5 370.5 202.3 374.3 202.3 C378.1 202.3 381 197.5 381 192" fill="none" stroke="#b8103a" stroke-width="1.1"/><path d="M360.1 215.6 V209 C360.1 206 363 204.8 369 204.2 L372.3 208 L373.3 206 L372.6 205 H376 L375.3 206 L376.3 208 L379.6 204.2 C385.6 204.8 388.75 206 388.75 209 V215.6 Z"/></g><rect x="379" y="210" width="4.3" height="1.8" fill="#fff"/></svg><div class="a" style="left:57.9px;top:285.77825px;font-size:13.1px;line-height:15.06px;color:#a01530;font-weight:bold;">Click here to add the text of the conclusion<span style="color:#222;font-weight:normal;margin-left:2.6px">&nbsp;,</span></div><div class="a" style="left:57.9px;top:306.06912500000004px;font-size:10.55px;line-height:12.13px;color:#222;font-weight:normal;">Headers, numbers, and more can all be changed by clicking and re-entering</div>
</div>
<div class="s" style="left:0px;top:1480px"><div class="ln"></div><svg style="left:0;top:0" width="30" height="30"><use href="#logo"/></svg><div class="bp">Business plan</div><div class="pn">30</div><div class="tt">Pie charts</div>
<svg style="left:0;top:0" width="475" height="360"><circle cx="126.6" cy="193.5" r="35.55" fill="none" stroke="#d9d9d9" stroke-width="22.10"/><path d="M126.60 146.90 A46.6 46.6 0 0 1 170.92 179.10 L149.90 185.93 A24.5 24.5 0 0 0 126.60 169.00 Z" fill="#b50031" stroke="#fff" stroke-width="0.8"/><text x="147.3" y="168.8" font-size="9.6" font-weight="bold" fill="#fff" text-anchor="middle">20</text><text x="105.7" y="226.3" font-size="9.6" font-weight="bold" fill="#222" text-anchor="middle">80</text><g fill="#b50031"><circle cx="120.70" cy="185.75" r="2.55"/><rect x="116.30" y="190.00" width="6.00" height="7.6" rx="0.8"/><rect x="118.50" y="197.40" width="3.80" height="9.3"/><circle cx="126.90" cy="185.75" r="2.55"/><rect x="123.80" y="190.00" width="7.10" height="7.6" rx="0.8"/><rect x="125.20" y="197.40" width="4.10" height="9.3"/><circle cx="133.80" cy="185.75" r="2.55"/><rect x="131.80" y="190.00" width="6.40" height="7.6" rx="0.8"/><rect x="131.60" y="197.40" width="4.60" height="9.3"/></g><path d="M119.80 190.00 L120.70 193.00 L121.60 190.00 Z" fill="#fff"/><path d="M126.00 190.00 L126.90 193.00 L127.80 190.00 Z" fill="#fff"/><path d="M132.90 190.00 L133.80 193.00 L134.70 190.00 Z" fill="#fff"/><text x="133.6" y="111.8" font-size="12.1" fill="#333" text-anchor="middle">Enter your title</text><rect x="113.0" y="120.4" width="4" height="4" fill="#b50031"/><text x="118.0" y="125.6" font-size="8.8" fill="#595959">Item1</text><circle cx="261.5" cy="193.5" r="35.55" fill="none" stroke="#d9d9d9" stroke-width="22.10"/><path d="M261.50 146.90 A46.6 46.6 0 0 1 305.82 207.90 L284.80 201.07 A24.5 24.5 0 0 0 261.50 169.00 Z" fill="#b50031" stroke="#fff" stroke-width="0.8"/><text x="291" y="177.5" font-size="9.6" font-weight="bold" fill="#fff" text-anchor="middle">30</text><text x="232.6" y="219.5" font-size="9.6" font-weight="bold" fill="#222" text-anchor="middle">70</text><g fill="#b50031"><circle cx="259.40" cy="185.75" r="2.55"/><rect x="255.00" y="190.00" width="6.00" height="7.6" rx="0.8"/><rect x="257.20" y="197.40" width="3.80" height="9.3"/><circle cx="265.60" cy="185.75" r="2.55"/><rect x="262.50" y="190.00" width="7.10" height="7.6" rx="0.8"/><rect x="263.90" y="197.40" width="4.10" height="9.3"/><circle cx="272.50" cy="185.75" r="2.55"/><rect x="270.50" y="190.00" width="6.40" height="7.6" rx="0.8"/><rect x="270.30" y="197.40" width="4.60" height="9.3"/></g><path d="M258.50 190.00 L259.40 193.00 L260.30 190.00 Z" fill="#fff"/><path d="M264.70 190.00 L265.60 193.00 L266.50 190.00 Z" fill="#fff"/><path d="M271.60 190.00 L272.50 193.00 L273.40 190.00 Z" fill="#fff"/><text x="269" y="111.8" font-size="12.1" fill="#333" text-anchor="middle">Enter your title</text><rect x="248.4" y="120.4" width="4" height="4" fill="#b50031"/><text x="253.4" y="125.6" font-size="8.8" fill="#595959">Item1</text><circle cx="395.6" cy="193.5" r="35.55" fill="none" stroke="#d9d9d9" stroke-width="22.10"/><path d="M395.60 146.90 A46.6 46.6 0 0 1 422.99 231.20 L410.00 213.32 A24.5 24.5 0 0 0 395.60 169.00 Z" fill="#b50031" stroke="#fff" stroke-width="0.8"/><text x="429.5" y="187.3" font-size="9.6" font-weight="bold" fill="#fff" text-anchor="middle">40</text><text x="362.7" y="208.60000000000002" font-size="9.6" font-weight="bold" fill="#222" text-anchor="middle">60</text><g fill="#b50031"><circle cx="389.70" cy="185.75" r="2.55"/><rect x="385.30" y="190.00" width="6.00" height="7.6" rx="0.8"/><rect x="387.50" y="197.40" width="3.80" height="9.3"/><circle cx="395.90" cy="185.75" r="2.55"/><rect x="392.80" y="190.00" width="7.10" height="7.6" rx="0.8"/><rect x="394.20" y="197.40" width="4.10" height="9.3"/><circle cx="402.80" cy="185.75" r="2.55"/><rect x="400.80" y="190.00" width="6.40" height="7.6" rx="0.8"/><rect x="400.60" y="197.40" width="4.60" height="9.3"/></g><path d="M388.80 190.00 L389.70 193.00 L390.60 190.00 Z" fill="#fff"/><path d="M395.00 190.00 L395.90 193.00 L396.80 190.00 Z" fill="#fff"/><path d="M401.90 190.00 L402.80 193.00 L403.70 190.00 Z" fill="#fff"/><text x="402.8" y="111.8" font-size="12.1" fill="#333" text-anchor="middle">Enter your title</text><rect x="382.2" y="120.4" width="4" height="4" fill="#b50031"/><text x="387.2" y="125.6" font-size="8.8" fill="#595959">Item1</text><line x1="195.4" y1="128.6" x2="195.4" y2="246.8" stroke="#e3e3e3" stroke-width="1"/><line x1="328" y1="128.6" x2="328" y2="246.8" stroke="#e3e3e3" stroke-width="1"/></svg><div class="a" style="left:57.9px;top:285.77825px;font-size:13.1px;line-height:15.06px;color:#a01530;font-weight:bold;">Click here to add the text of the conclusion<span style="color:#222;font-weight:normal;margin-left:2.6px">&nbsp;,</span></div><div class="a" style="left:57.9px;top:306.06912500000004px;font-size:10.55px;line-height:12.13px;color:#222;font-weight:normal;">Headers, numbers, and more can all be changed by clicking and re-entering</div>
</div>
<div class="s" style="left:485px;top:1480px"><div class="ln"></div><svg style="left:0;top:0" width="30" height="30"><use href="#logo"/></svg><div class="bp">Business plan</div><div class="pn">31</div><div class="tt">Pie charts</div>
<svg style="left:0;top:0" width="475" height="360"><path d="M167.7 127.8 L224.8 89.4 L224.8 239.4 L169 201 Q186.6 164.4 167.7 127.8 Z" fill="#f8e2e8"/><rect x="232" y="89.5" width="226.75" height="151" fill="#f2f2f2"/><path d="M161.17 201.26 A58.8 58.8 0 1 1 161.17 132.14 L142.40 145.77 A35.6 35.6 0 1 0 142.40 187.63 Z" fill="#d9d9d9"/><path d="M161.17 132.14 A58.8 58.8 0 0 1 161.17 201.26 L142.40 187.63 A35.6 35.6 0 0 0 142.40 145.77 Z" fill="#bb0033"/><line x1="141.11" y1="146.72" x2="162.14" y2="131.43" stroke="#fff" stroke-width="1.6"/><line x1="141.11" y1="186.68" x2="162.14" y2="201.97" stroke="#fff" stroke-width="1.6"/><text x="66.4" y="172" font-size="9.2" font-weight="bold" fill="#222" text-anchor="middle">80%</text><text x="159.8" y="168.8" font-size="9.2" font-weight="bold" fill="#fff" text-anchor="middle">20%</text><g fill="#c8c8c8"><circle cx="102" cy="155" r="3"/><circle cx="124" cy="155" r="3"/><rect x="99.2" y="160" width="5.5" height="11" rx="2.5"/><rect x="99.2" y="169" width="10.3" height="2.7"/><rect x="106" y="169" width="3.5" height="9.3"/><rect x="121" y="160" width="5.6" height="11" rx="2.5"/><rect x="116.3" y="169" width="10.3" height="2.7"/><rect x="116.3" y="169" width="3.7" height="9.3"/><rect x="107.2" y="163.2" width="11.4" height="1.6"/><rect x="112.4" y="164" width="1.1" height="14.3"/></g><circle cx="113" cy="156" r="4.6" fill="none" stroke="#c8c8c8" stroke-width="1.4"/><path d="M110.8 155.8 L112.6 157.8 L115.5 153.8" fill="none" stroke="#c8c8c8" stroke-width="1.3"/><text x="345" y="118.8" font-size="9.25" fill="#333" text-anchor="middle">Histogram data chart analysis tool</text><rect x="281.25" y="133.00" width="120.72" height="10.75" fill="#bb0033"/><text x="275" y="141.00" font-size="7.2" fill="#404040" text-anchor="end">Data5</text><text x="405.77" y="141.20" font-size="8" fill="#404040">80</text><rect x="281.25" y="152.55" width="98.08" height="10.75" fill="#bb0033"/><text x="275" y="160.55" font-size="7.2" fill="#404040" text-anchor="end">Data4</text><text x="383.13" y="160.75" font-size="8" fill="#404040">65</text><rect x="281.25" y="172.10" width="102.61" height="10.75" fill="#bb0033"/><text x="275" y="180.10" font-size="7.2" fill="#404040" text-anchor="end">Data3</text><text x="387.66" y="180.30" font-size="8" fill="#404040">68</text><rect x="281.25" y="191.65" width="113.17" height="10.75" fill="#bb0033"/><text x="275" y="199.65" font-size="7.2" fill="#404040" text-anchor="end">Data2</text><text x="398.23" y="199.85" font-size="8" fill="#404040">75</text><rect x="281.25" y="211.20" width="120.72" height="10.75" fill="#bb0033"/><text x="275" y="219.20" font-size="7.2" fill="#404040" text-anchor="end">Data1</text><text x="405.77" y="219.40" font-size="8" fill="#404040">80</text></svg><div class="a" style="left:57.9px;top:285.77825px;font-size:13.1px;line-height:15.06px;color:#a01530;font-weight:bold;">Click here to add the text of the conclusion<span style="color:#222;font-weight:normal;margin-left:2.6px">&nbsp;,</span></div><div class="a" style="left:57.9px;top:306.06912500000004px;font-size:10.55px;line-height:12.13px;color:#222;font-weight:normal;">Headers, numbers, and more can all be changed by clicking and re-entering</div>
</div>
</body></html>
